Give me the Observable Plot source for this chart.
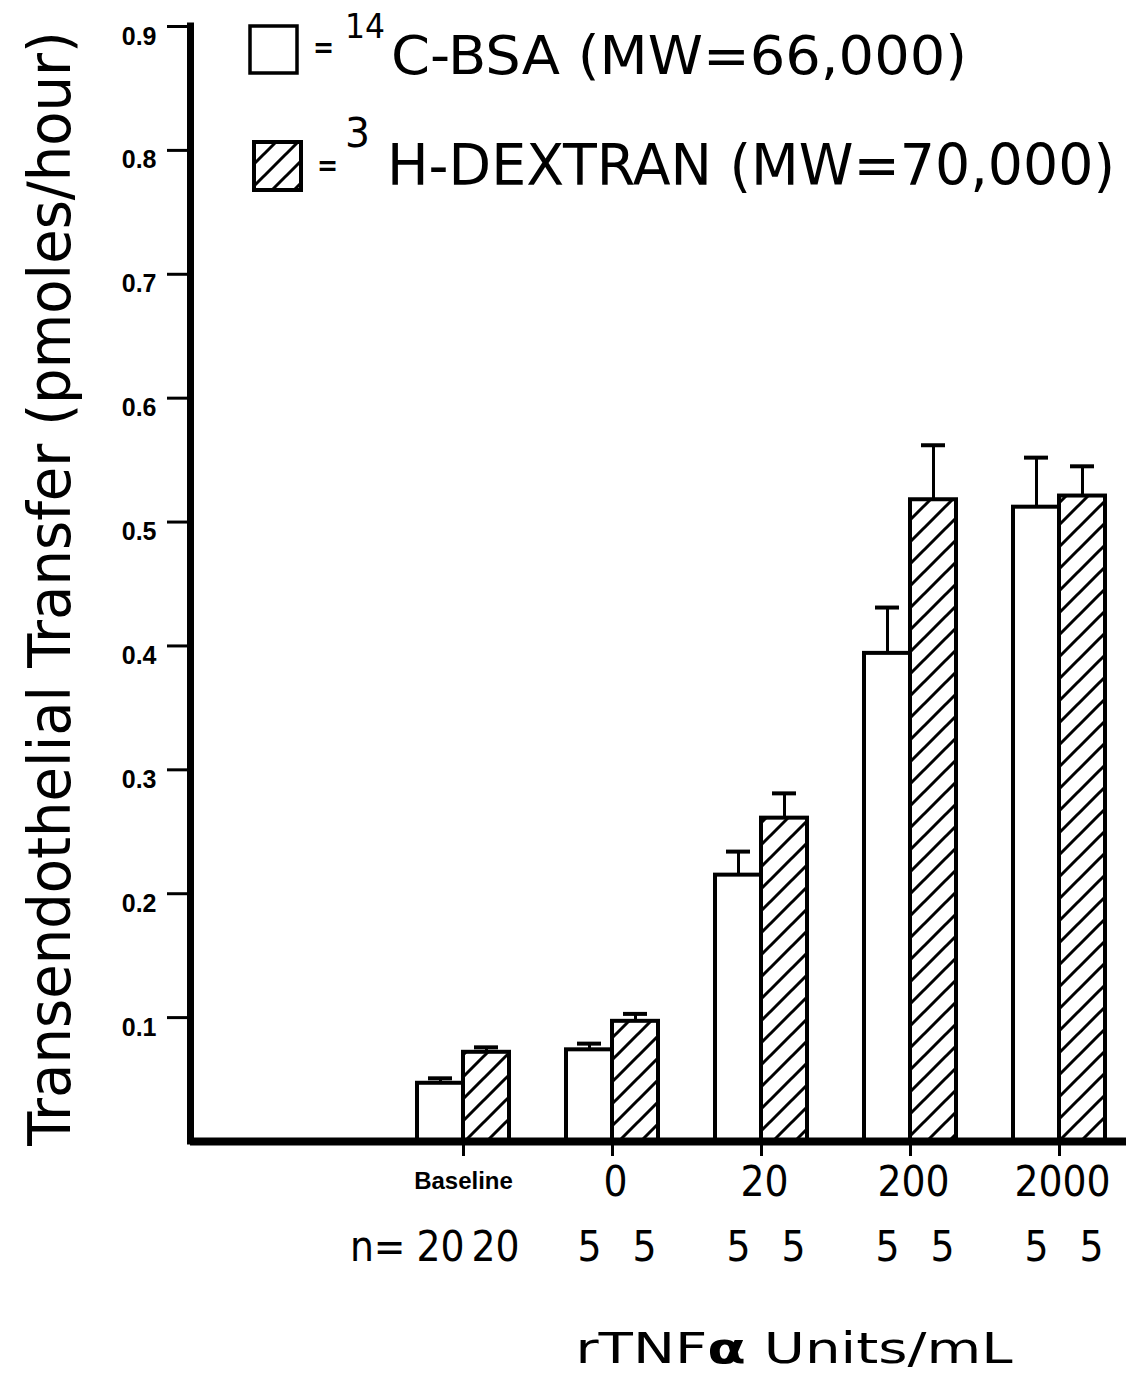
<!DOCTYPE html>
<html>
<head>
<meta charset="utf-8">
<script src="https://cdn.jsdelivr.net/npm/d3@7"></script>
<script src="https://cdn.jsdelivr.net/npm/@observablehq/plot@0.6"></script>
<style>
  body { margin: 0; background: #fff; }
  #chart { width: 1126px; height: 1378px; }
</style>
</head>
<body>
<div id="chart"></div>
<script>
// ---------- data ----------
const groups = ["Baseline", "0", "20", "200", "2000"];
const bsaMean = [0.047, 0.074, 0.215, 0.394, 0.512];
const bsaSem  = [0.004, 0.005, 0.019, 0.037, 0.040];
const dexMean = [0.072, 0.097, 0.261, 0.518, 0.521];
const dexSem  = [0.004, 0.006, 0.020, 0.044, 0.024];
const bsaN = [20, 5, 5, 5, 5];
const dexN = [20, 5, 5, 5, 5];
const yTicks = [0.1, 0.2, 0.3, 0.4, 0.5, 0.6, 0.7, 0.8, 0.9];
const legendSup = ["14", "3"];
const legendText = ["C-BSA (MW=66,000)", "H-DEXTRAN (MW=70,000)"];
const nPrefix = "n=";
const xTitle = "rTNFα Units/mL";
const yTitle = "Transendothelial Transfer (pmoles/hour)";

// ---------- layout (style only) ----------
const W = 1126, H = 1378;
const mL = 190, mR = 0, mT = 26, mB = 237;
const firstCenterPx = 463, stepPx = 149;
const xDomain = [(mL - firstCenterPx) / stepPx, (W - mR - firstCenterPx) / stepPx];
const barW = 46 / stepPx;
const capHalf = 12 / stepPx;
const condensed = "'DejaVu Sans Condensed', 'DejaVu Sans', sans-serif";
const boldSans = "'Liberation Sans', Arial, sans-serif";

const groupRows = groups.map((g, i) => ({i, label: g}));
const bsaRows = groups.map((g, i) => ({i, x1: i - barW, x2: i, xc: i - barW / 2, value: bsaMean[i], hi: bsaMean[i] + bsaSem[i], n: bsaN[i]}));
const dexRows = groups.map((g, i) => ({i, x1: i, x2: i + barW, xc: i + barW / 2, value: dexMean[i], hi: dexMean[i] + dexSem[i], n: dexN[i]}));
const allRows = bsaRows.concat(dexRows);

const below = {frameAnchor: "bottom", lineAnchor: "middle", textAnchor: "middle"};

const chart = Plot.plot({
  width: W, height: H,
  marginLeft: mL, marginRight: mR, marginTop: mT, marginBottom: mB,
  x: {type: "linear", domain: xDomain},
  y: {domain: [0, 0.9]},
  style: {fontFamily: condensed, background: "white", color: "black"},
  marks: [
    Plot.rect(bsaRows, {x1: "x1", x2: "x2", y1: () => 0, y2: "value", fill: "white", stroke: "black", strokeWidth: 4}),
    Plot.rect(dexRows, {x1: "x1", x2: "x2", y1: () => 0, y2: "value", fill: "url(#hatch)", stroke: "black", strokeWidth: 4}),
    Plot.ruleX(allRows, {x: "xc", y1: "value", y2: "hi", stroke: "black", strokeWidth: 3}),
    Plot.ruleY(allRows, {y: "hi", x1: d => d.xc - capHalf, x2: d => d.xc + capHalf, stroke: "black", strokeWidth: 4}),
    Plot.axisY({ticks: yTicks, tickSize: 23, tickPadding: 11, tickFormat: d3.format(".1f"), strokeWidth: 3,
      fontSize: 25, fontWeight: "bold", fontFamily: boldSans, label: null}),
    Plot.axisX({ticks: groupRows.map(d => d.i), tickSize: 15, tickFormat: () => "", strokeWidth: 3, label: null}),
    Plot.ruleX([xDomain[0]], {y1: () => 0, y2: () => 0.9, stroke: "black", strokeWidth: 7, strokeLinecap: "square"}),
    Plot.ruleY([0], {stroke: "black", strokeWidth: 8}),
    // group labels
    Plot.text(groupRows.slice(0, 1), {...below, x: "i", text: "label", dy: 40, fontSize: 24, fontWeight: "bold", fontFamily: boldSans}),
    Plot.text(groupRows.slice(1), {...below, x: "i", text: "label", dy: 41, dx: 3, fontSize: 42}),
    // n labels
    Plot.text(bsaRows, {...below, x: "xc", text: d => String(d.n), dy: 106, fontSize: 42}),
    Plot.text(dexRows, {...below, x: "xc", text: d => String(d.n), dy: 106, dx: 9, fontSize: 42}),
    Plot.text([nPrefix], {...below, x: () => bsaRows[0].xc, text: d => d, dy: 106, dx: -35, textAnchor: "end", fontSize: 42}),
    // axis titles
    Plot.text([xTitle], {...below, text: d => d, dx: 135.5, dy: 208, fontSize: 42}),
    Plot.text([yTitle], {text: d => d, frameAnchor: "left", textAnchor: "middle", lineAnchor: "middle", rotate: -90, dx: -139, dy: 4.5, fontSize: 59})
  ]
});

const svg = d3.select(chart);
// hatch pattern
const defs = svg.insert("defs", ":first-child");
const pat = defs.append("pattern").attr("id", "hatch").attr("patternUnits", "userSpaceOnUse")
  .attr("width", 22).attr("height", 22);
pat.append("rect").attr("width", 22).attr("height", 22).attr("fill", "white");
pat.append("path").attr("d", "M-5,5 L5,-5 M0,22 L22,0 M17,27 L27,17")
  .attr("stroke", "black").attr("stroke-width", 3);

// y tick label size
svg.selectAll("[aria-label='y-axis tick label'] text").attr("font-size", 25).attr("dy", "0.4em");

// fit long texts to reference widths
svg.selectAll("text").filter(function () { return this.textContent === yTitle; })
  .attr("textLength", 1115).attr("lengthAdjust", "spacingAndGlyphs");
svg.selectAll("text").filter(function () { return this.textContent === xTitle; })
  .each(function () {
    const t = d3.select(this);
    t.text(null);
    t.append("tspan").text("rTNF");
    t.append("tspan").attr("font-weight", "bold").text("α");
    t.append("tspan").text(" Units/mL");
    t.attr("textLength", 437).attr("lengthAdjust", "spacingAndGlyphs");
  });

// legend
const lg = svg.append("g").attr("font-family", condensed).attr("fill", "black").attr("text-anchor", "start");
lg.append("rect").attr("x", 250).attr("y", 26).attr("width", 47).attr("height", 47)
  .attr("fill", "white").attr("stroke", "black").attr("stroke-width", 3.5);
lg.append("rect").attr("x", 254).attr("y", 142).attr("width", 47).attr("height", 48)
  .attr("fill", "url(#hatch)").attr("stroke", "black").attr("stroke-width", 4);
const legendRows = [
  {eqX: 313, eqY: 57, supX: 345, supY: 38, supSize: 34, supLen: 40, txtX: 391, txtY: 74, size: 54, len: 576},
  {eqX: 317, eqY: 175, supX: 345, supY: 147, supSize: 40, supLen: 25, txtX: 387, txtY: 185, size: 57, len: 728}
];
legendRows.forEach((r, k) => {
  lg.append("text").attr("x", r.eqX).attr("y", r.eqY).attr("font-size", 28).attr("font-weight", "bold").text("=");
  lg.append("text").attr("x", r.supX).attr("y", r.supY).attr("font-size", r.supSize)
    .attr("textLength", r.supLen).attr("lengthAdjust", "spacingAndGlyphs").text(legendSup[k]);
  lg.append("text").attr("x", r.txtX).attr("y", r.txtY).attr("font-size", r.size)
    .attr("textLength", r.len).attr("lengthAdjust", "spacingAndGlyphs").text(legendText[k]);
});

document.getElementById("chart").appendChild(chart);
</script>
</body>
</html>
